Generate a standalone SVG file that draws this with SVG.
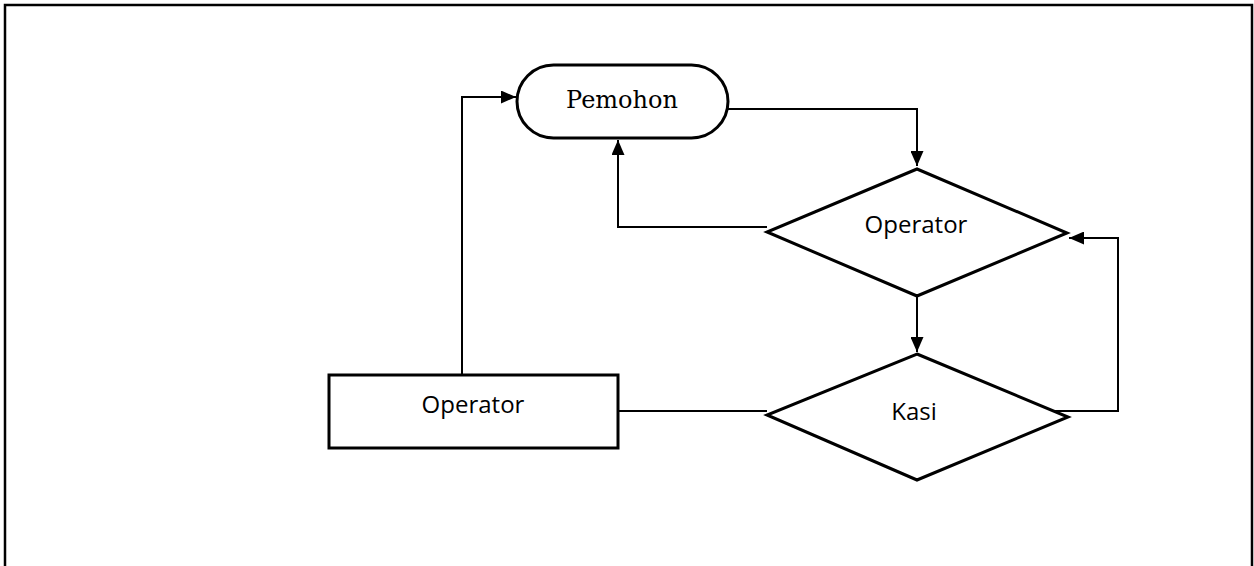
<svg xmlns="http://www.w3.org/2000/svg" width="1254" height="566" viewBox="0 0 1254 566">
<style>
.shape{fill:#fff;stroke:#000;stroke-width:3}
.conn{fill:none;stroke:#000;stroke-width:2}
.sans{font-family:"Open Sans","Liberation Sans",sans-serif;font-size:24px;fill:#000;text-anchor:middle}
.serif{font-family:"DejaVu Serif","Liberation Serif",serif;font-size:24px;fill:#000;text-anchor:middle}
</style>
<defs>
<marker id="ah" markerWidth="15" markerHeight="13" refX="15" refY="6.5" orient="auto" markerUnits="userSpaceOnUse">
<path d="M0,0 L15,6.5 L0,13 Z" fill="#000"/>
</marker>
</defs>
<rect width="1254" height="566" fill="#fff"/>
<path d="M5,570 V5 H1252 V570" fill="none" stroke="#000" stroke-width="2.5"/>
<g id="connectors">
<path class="conn" d="M728,109 H917 V166" marker-end="url(#ah)"/>
<path class="conn" d="M767,227 H618 V140" marker-end="url(#ah)"/>
<path class="conn" d="M917,296 V352" marker-end="url(#ah)"/>
<path class="conn" d="M1055,411 H1118 V238 H1069" marker-end="url(#ah)"/>
<path class="conn" d="M618,411 H767"/>
<path class="conn" d="M462,375 V97 H516" marker-end="url(#ah)"/>
</g>
<g id="pemohon">
<rect class="shape" x="517" y="65" width="211" height="73" rx="36.5" ry="36.5"/>
<text class="serif" x="622" y="108">Pemohon</text>
</g>
<g id="operator-decision">
<polygon class="shape" points="917,169 1067,233 917,296 767,232"/>
<text class="sans" x="916" y="233">Operator</text>
</g>
<g id="kasi">
<polygon class="shape" points="917,354 1068,417 917,480 767,415"/>
<text class="sans" x="914" y="420">Kasi</text>
</g>
<g id="operator-process">
<rect class="shape" x="329" y="375" width="289" height="73"/>
<text class="sans" x="473" y="413">Operator</text>
</g>
</svg>
